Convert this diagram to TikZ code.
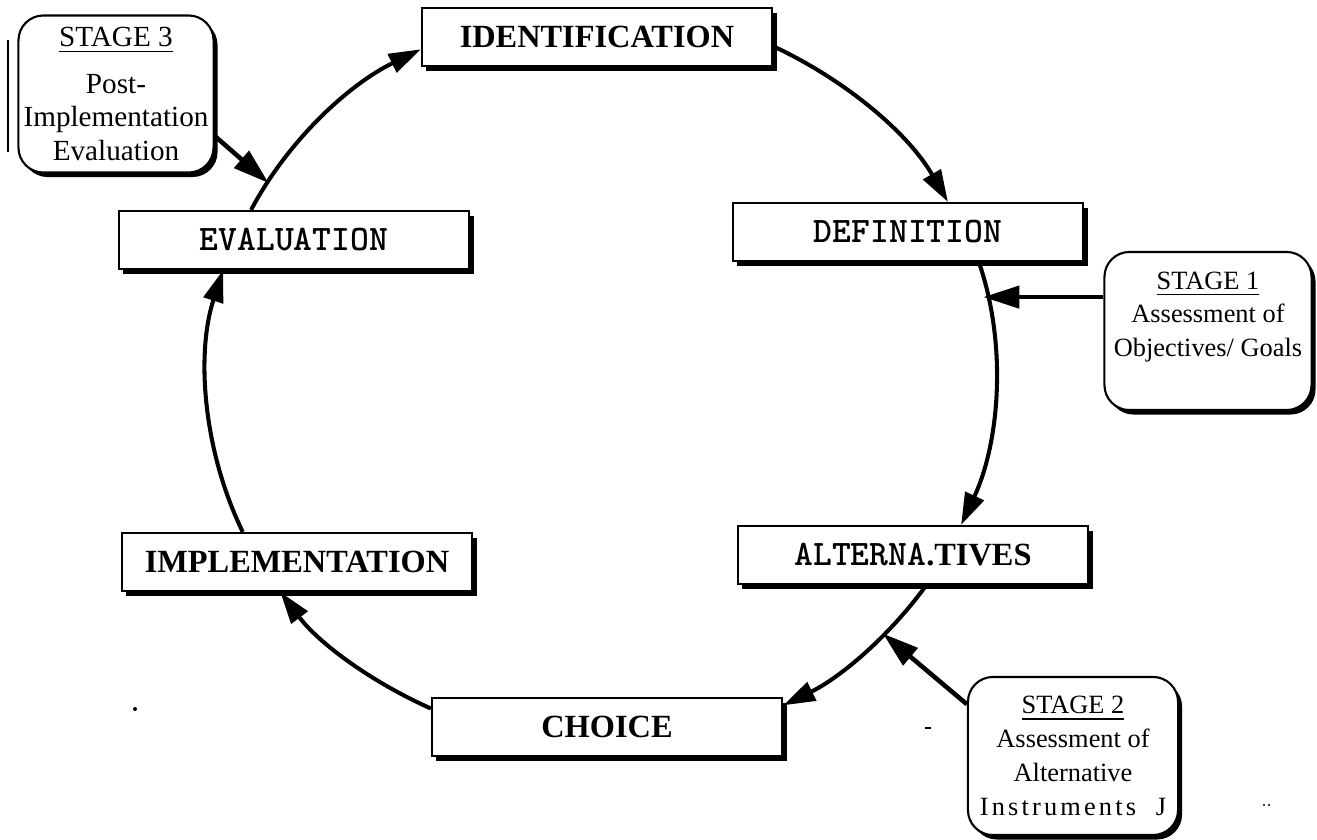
\documentclass[tikz,border=0pt]{standalone}
\usepackage{fontspec}
\setmainfont{Liberation Serif}
\usetikzlibrary{arrows.meta,shadows,calc}

\begin{document}
\begin{tikzpicture}[x=0.01cm, y=0.01cm,
    cyclebox/.style={draw, fill=white, line width=0.6pt, minimum width=3.5cm, minimum height=5.8mm, inner sep=0pt,
      drop shadow={shadow xshift=0.45mm, shadow yshift=-0.5mm, fill=black, opacity=1}},
    stagebox/.style={draw, fill=white, line width=0.6pt, rounded corners=2.5mm, align=center, inner sep=0pt,
      font=\fontsize{7.5}{9.6}\selectfont,
      drop shadow={shadow xshift=0.4mm, shadow yshift=-0.45mm, fill=black, opacity=1}},
    serifcap/.style={font=\fontsize{9.2}{11}\selectfont\bfseries},
    monocap/.style={font=\fontsize{10.2}{11}\selectfont\ttfamily\bfseries},
    ringarrow/.style={-{Triangle[length=3.2mm,width=2mm]}, line width=1.15pt, looseness=0.87},
    stagearrow/.style={-{Triangle[length=3.6mm,width=2.2mm]}, line width=1.3pt}]
  \useasboundingbox (0,0) rectangle (1317,-840);
  \coordinate (ring) at (601,-378);

  % the six steps round the ring
  \node[cyclebox, serifcap] (identification) at (597,-37) {IDENTIFICATION};
  \node[cyclebox, monocap] (definition) at (908,-232) {DEFINITION};
  \node[cyclebox, serifcap] (alternatives) at (913,-555) {{\fontsize{10.2}{11}\selectfont\ttfamily ALTERNA}.TIVES};
  \node[cyclebox, serifcap] (choice) at (607,-727) {CHOICE};
  \node[cyclebox, serifcap] (implementation) at (297,-562) {IMPLEMENTATION};
  \node[cyclebox, monocap] (evaluation) at (294,-240) {EVALUATION};

  \foreach \from/\to/\o/\i in {identification.-3/definition.37/-25/120,
      definition.-23/alternatives.32/-71/65, alternatives.-66/choice.7/-126/26,
      choice.174/implementation.241/156/-53, implementation.151/evaluation.203/116/-108,
      evaluation.145/identification.184/62/206} {
    \draw[ringarrow] (\from) to[out=\o, in=\i] (\to);
  }

  % assessment stages
  \node[stagebox, font=\fontsize{8.3}{9.6}\selectfont, minimum width=1.95cm, minimum height=1.57cm] (stage3) at (116,-94)
    {\underline{STAGE 3}\\[1.3mm]Post-\\Implementation\\Evaluation};
  \node[stagebox, minimum width=2.07cm, minimum height=1.58cm] (stage1) at (1208,-331)
    {\underline{STAGE 1}\\Assessment of\\Objectives/ Goals\\\mbox{}};
  \node[stagebox, minimum width=2.1cm, minimum height=1.58cm] (stage2) at (1073,-756)
    {\underline{STAGE 2}\\Assessment of\\Alternative\\{\addfontfeature{LetterSpace=12}Instruments}~~~J};

  \coordinate (s3hit) at ($(ring)+(148:392 and 368)$);
  \coordinate (s1hit) at ($(ring)+(12.7:392 and 368)$);
  \coordinate (s2hit) at ($(ring)+(-44:392 and 368)$);
  \draw[stagearrow] (stage3.-23) -- (s3hit);
  \draw[stagearrow] (s1hit -| stage1.west) -- (s1hit);
  \draw[stagearrow] (stage2.154) -- (s2hit);

  % specks of the scan
  \draw[line width=0.8pt] (8,-40) -- (8,-152);
  \fill (135,-709) circle (2);
  \draw[line width=0.8pt] (925,-728) -- (931,-728);
  \fill (1264,-805) circle (1.2) (1269,-805) circle (1.2);
\end{tikzpicture}
\end{document}
